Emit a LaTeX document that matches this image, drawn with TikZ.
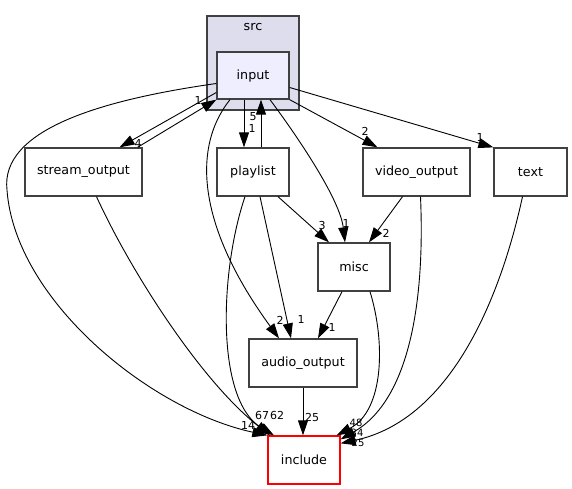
\documentclass[tikz,border=0pt]{standalone}
\usepackage{fontspec}
\setmainfont{DejaVu Sans}
\usetikzlibrary{arrows.meta}
\definecolor{dirline}{HTML}{404040}
\definecolor{clusterfill}{HTML}{DDDDEE}
\definecolor{inputfill}{HTML}{EEEEFF}
\tikzset{
  dirbox/.style={draw=dirline,line width=1.3pt,minimum height=48pt,inner sep=0pt,font=\fontsize{12.7}{15}\selectfont},
  dep/.style={-{Triangle[length=15pt,width=10pt]},line width=0.9pt},
  cnt/.style={font=\fontsize{11}{13}\selectfont,inner sep=0pt}
}
\begin{document}
\begin{tikzpicture}[x=1pt,y=-1pt]
\useasboundingbox (0,0) rectangle (572,489);
\node[draw=dirline,fill=clusterfill,line width=1.3pt,minimum width=92pt,minimum height=94pt] (src) at (253,63) {};
\node[font=\fontsize{12.7}{15}\selectfont] (srclabel) at (253,27) {src};
\node[dirbox,fill=inputfill,minimum width=72pt,minimum height=47pt] (input) at (253,75.5) {input};
\node[dirbox,minimum width=117pt] (stream_output) at (83.5,172) {stream\_output};
\node[dirbox,minimum width=72pt] (playlist) at (253,172) {playlist};
\node[dirbox,minimum width=107pt] (video_output) at (416.5,172) {video\_output};
\node[dirbox,minimum width=73pt] (text) at (530.5,172) {text};
\node[dirbox,minimum width=72pt] (misc) at (354,267) {misc};
\node[dirbox,minimum width=108pt] (audio_output) at (303,363) {audio\_output};
\node[dirbox,draw=red,minimum width=72pt] (include) at (304,460) {include};
\draw[dep] ([yshift=-17pt]input.west) -- ([xshift=36pt]stream_output.north);
\draw[dep] ([xshift=54pt]stream_output.north) -- (input.south west);
\draw[dep] ([yshift=-8pt]input.west) .. controls (100,100) and (0,130) .. (7,190) .. controls (15,300) and (150,410) .. (include.north west);
\draw[dep] ([xshift=-23pt]input.south) .. controls (190,150) and (200,230) .. ([xshift=-24pt]audio_output.north);
\draw[dep] ([xshift=17pt]input.south) .. controls (300,140) and (340,200) .. ([xshift=-9pt]misc.north);
\draw[dep] ([xshift=-9pt]input.south) -- ([xshift=-9pt]playlist.north);
\draw[dep] ([xshift=8pt]playlist.north) -- ([xshift=8pt]input.south);
\draw[dep] (input.south east) -- ([xshift=-39pt]video_output.north);
\draw[dep] ([yshift=-12pt]input.east) -- (text.north west);
\draw[dep] ([xshift=13pt]stream_output.south) .. controls (130,270) and (200,380) .. ([xshift=-34pt]include.north);
\draw[dep] ([xshift=-8pt]playlist.south) .. controls (220,270) and (215,400) .. ([xshift=-30pt]include.north);
\draw[dep] ([xshift=7pt]playlist.south) -- ([xshift=-12pt]audio_output.north);
\draw[dep] ([xshift=25pt]playlist.south) -- ([xshift=-25pt]misc.north);
\draw[dep] ([xshift=-14pt]video_output.south) -- ([xshift=15pt]misc.north);
\draw[dep] ([xshift=4pt]video_output.south) .. controls (425,300) and (410,400) .. ([yshift=-4pt]include.north east);
\draw[dep] ([xshift=-8pt]text.south) .. controls (500,300) and (450,420) .. ([yshift=-8pt]include.north east);
\draw[dep] ([xshift=16pt]misc.south) .. controls (385,340) and (385,410) .. ([xshift=-4pt]include.north east);
\draw[dep] ([xshift=-12pt]misc.south) -- ([xshift=15pt]audio_output.north);
\draw[dep] (audio_output.south) -- ([xshift=-1pt]include.north);
\node[cnt] (c_so_in) at (198,100) {1};
\node[cnt] (c_in_so) at (138,143) {4};
\node[cnt] (c_in_inc) at (248,425) {14};
\node[cnt] (c_so_inc) at (262,415) {67};
\node[cnt] (c_pl_inc) at (277,415) {62};
\node[cnt] (c_in_ao) at (280,320) {2};
\node[cnt] (c_pl_ao) at (301,319) {1};
\node[cnt] (c_in_mi) at (346,223) {1};
\node[cnt] (c_pl_mi) at (322,225) {3};
\node[cnt] (c_vo_mi) at (386,233) {2};
\node[cnt] (c_pl_in) at (253,117) {5};
\node[cnt] (c_in_pl) at (252,128) {1};
\node[cnt] (c_in_vo) at (365,131) {2};
\node[cnt] (c_in_te) at (480,137) {1};
\node[cnt] (c_mi_ao) at (332,327) {1};
\node[cnt] (c_ao_inc) at (312,417) {25};
\node[cnt,font=\fontsize{10}{12}\selectfont] (c_mi_inc) at (356,423) {48};
\node[cnt,font=\fontsize{10}{12}\selectfont] (c_vo_inc) at (357,433) {34};
\node[cnt,font=\fontsize{10}{12}\selectfont] (c_te_inc) at (358,443) {25};
\end{tikzpicture}
\end{document}
